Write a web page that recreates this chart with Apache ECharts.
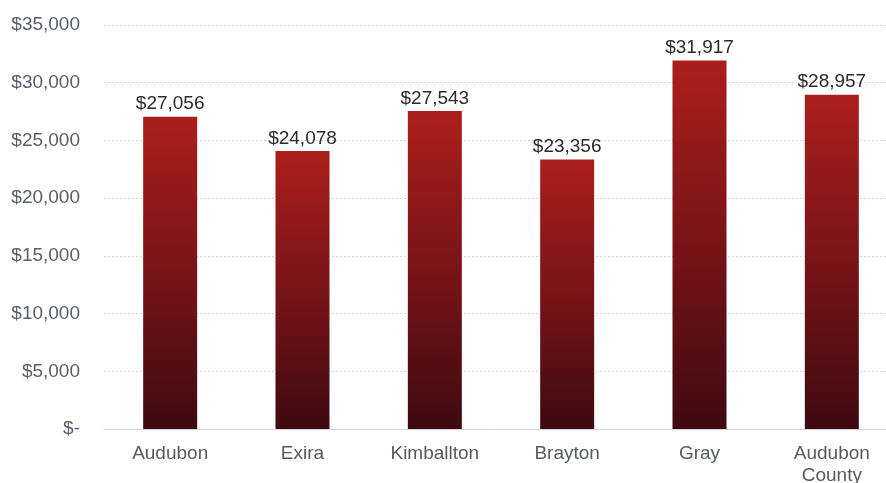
<!DOCTYPE html>
<html>
<head>
<meta charset="utf-8">
<script src="https://cdn.jsdelivr.net/npm/echarts@6/dist/echarts.min.js"></script>
<style>
  html, body { margin: 0; padding: 0; background: #ffffff; }
  #chart { width: 886px; height: 483px; }
</style>
</head>
<body>
<div id="chart"></div>
<script>
// Per-capita income by place
const categories = ['Audubon', 'Exira', 'Kimballton', 'Brayton', 'Gray', 'Audubon\nCounty'];
const incomeValues = [27056, 24078, 27543, 23356, 31917, 28957];
const yTicks = { min: 0, max: 35000, interval: 5000 };

function fmtDollar(v) {
  if (v === 0) return '$-';
  return '$' + v.toLocaleString('en-US');
}

const FONT = 'Liberation Sans, Arial, sans-serif';

const chart = echarts.init(document.getElementById('chart'), null, { renderer: 'canvas' });
chart.setOption({
  backgroundColor: '#ffffff',
  animation: false,
  textStyle: { fontFamily: FONT },
  // plot runs slightly past the right edge of the canvas
  grid: {
    left: 104, width: 794, top: 25, bottom: 54,
    containLabel: false,
    outerBoundsMode: 'none'
  },
  xAxis: {
    type: 'category',
    data: categories,
    axisLine: { show: true, lineStyle: { color: '#d4d4d4', width: 1 } },
    axisTick: { show: false },
    axisLabel: {
      color: '#555a62',
      fontSize: 19,
      margin: 14,
      lineHeight: 22,
      fontFamily: FONT
    }
  },
  yAxis: {
    type: 'value',
    min: yTicks.min,
    max: yTicks.max,
    interval: yTicks.interval,
    axisLine: { show: false },
    axisTick: { show: false },
    splitLine: { show: true, lineStyle: { color: '#d6d6d6', type: [2, 2], width: 1 } },
    axisLabel: {
      color: '#5a5e6a',
      fontSize: 19,
      margin: 24,
      formatter: fmtDollar,
      fontFamily: FONT
    }
  },
  series: [{
    type: 'bar',
    data: incomeValues,
    barWidth: 54,
    itemStyle: {
      color: new echarts.graphic.LinearGradient(0, 0, 0, 1, [
        { offset: 0, color: '#ab1f1c' },
        { offset: 0.5, color: '#781418' },
        { offset: 1, color: '#3e0a10' }
      ])
    },
    label: {
      show: true,
      position: 'top',
      distance: 3,
      color: '#2a2a30',
      fontSize: 19,
      formatter: p => fmtDollar(p.value),
      fontFamily: FONT
    }
  }]
});
</script>
</body>
</html>
